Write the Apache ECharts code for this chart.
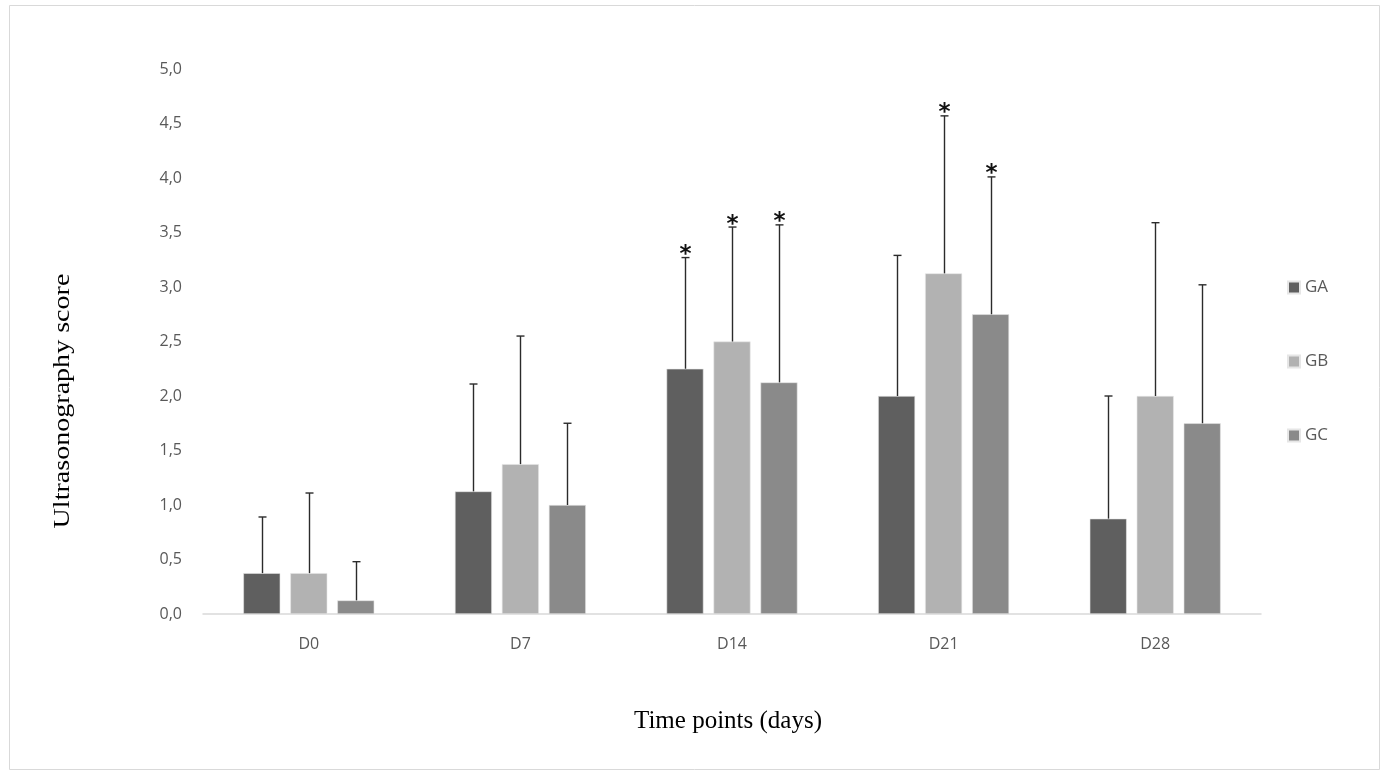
<!DOCTYPE html>
<html>
<head>
<meta charset="utf-8">
<script src="https://cdn.jsdelivr.net/npm/echarts@6/dist/echarts.min.js"></script>
<style>
  html, body { margin: 0; padding: 0; background: #fff; }
  #chart { width: 1387px; height: 774px; }
</style>
</head>
<body>
<div id="chart"></div>
<script>
// Time points and group values (mean score, plus upper SD)
const categories = ['D0', 'D7', 'D14', 'D21', 'D28'];
const groups = ['GA', 'GB', 'GC'];
const gaMean = [0.375, 1.125, 2.25, 2.0, 0.875];
const gbMean = [0.375, 1.375, 2.5, 3.125, 2.0];
const gcMean = [0.125, 1.0, 2.125, 2.75, 1.75];
const gaSD = [0.515, 0.985, 1.02, 1.29, 1.125];
const gbSD = [0.735, 1.175, 1.05, 1.445, 1.59];
const gcSD = [0.355, 0.75, 1.445, 1.26, 1.27];
// 1 = significant difference marked with an asterisk
const gaSig = [0, 0, 1, 0, 0];
const gbSig = [0, 0, 1, 1, 0];
const gcSig = [0, 0, 1, 1, 0];
const yTicks = { min: 0, max: 5, interval: 0.5 };
const yTitle = 'Ultrasonography score';
const xTitle = 'Time points (days)';

const colors = ['#5f5f5f', '#b2b2b2', '#8a8a8a'];
const means = [gaMean, gbMean, gcMean];
const sds = [gaSD, gbSD, gcSD];
const sigs = [gaSig, gbSig, gcSig];

const BAR_W = 37;
const BAR_GAP = 10;

const chart = echarts.init(document.getElementById('chart'));

const barSeries = groups.map((g, i) => ({
  name: g,
  type: 'bar',
  barWidth: BAR_W,
  barGap: (BAR_GAP / BAR_W * 100).toFixed(0) + '%',
  itemStyle: { color: colors[i], borderColor: '#e6e6e6', borderWidth: 0.6 },
  data: means[i],
  z: 2
}));

const errorSeries = groups.map((g, i) => ({
  type: 'custom',
  name: g + '_err',
  silent: true,
  z: 3,
  data: categories.map((c, k) => [k, means[i][k], means[i][k] + sds[i][k], sigs[i][k]]),
  renderItem: function (params, api) {
    const offset = (i - 1) * (BAR_W + BAR_GAP);
    const base = api.coord([api.value(0), api.value(1)]);
    const top = api.coord([api.value(0), api.value(2)]);
    const x = Math.round(base[0] + offset) + 0.5;
    const style = { stroke: '#2b2b2b', lineWidth: 1.4 };
    const children = [
      { type: 'line', shape: { x1: x, y1: base[1], x2: x, y2: top[1] }, style: style },
      { type: 'line', shape: { x1: x - 4, y1: top[1], x2: x + 4, y2: top[1] }, style: style }
    ];
    if (api.value(3)) {
      children.push({
        type: 'text',
        style: {
          text: '*', x: x, y: top[1] + 9,
          align: 'center', verticalAlign: 'bottom',
          font: 'bold 23px "DejaVu Sans", sans-serif', fill: '#111'
        }
      });
    }
    return { type: 'group', children: children };
  }
}));

chart.setOption({
  animation: false,
  backgroundColor: '#fff',
  graphic: [
    {
      type: 'rect', z: -1, silent: true,
      shape: { x: 9.5, y: 5.5, width: 1370, height: 764 },
      style: { fill: 'none', stroke: '#d9d9d9', lineWidth: 1 }
    },
    {
      type: 'text', silent: true,
      x: 63, y: 401, rotation: Math.PI / 2, scaleX: 1.22,
      style: {
        text: yTitle, align: 'center', verticalAlign: 'middle',
        font: '23px "Liberation Serif", "DejaVu Serif", serif', fill: '#000'
      }
    },
    {
      type: 'text', silent: true,
      x: 728, y: 721,
      style: {
        text: xTitle, align: 'center', verticalAlign: 'middle',
        font: '25px "Liberation Serif", "DejaVu Serif", serif', fill: '#000'
      }
    }
  ],
  grid: { left: 203, right: 126, top: 69, bottom: 160, containLabel: false },
  legend: {
    orient: 'vertical',
    left: 1287,
    top: 279,
    padding: 0,
    itemWidth: 12,
    itemHeight: 12,
    itemGap: 57,
    icon: 'rect',
    data: groups,
    textStyle: { color: '#595959', fontSize: 17, fontFamily: '"Open Sans", "Noto Sans", sans-serif' }
  },
  xAxis: {
    type: 'category',
    data: categories,
    axisLine: { lineStyle: { color: '#d9d9d9', width: 1.5 } },
    axisTick: { show: false },
    axisLabel: { margin: 22, fontSize: 16, color: '#595959', fontFamily: '"Open Sans", "Noto Sans", sans-serif' }
  },
  yAxis: {
    type: 'value',
    min: yTicks.min,
    max: yTicks.max,
    interval: yTicks.interval,
    axisLine: { show: false },
    axisTick: { show: false },
    splitLine: { show: false },
    axisLabel: {
      margin: 21,
      fontSize: 16,
      color: '#595959',
      fontFamily: '"Open Sans", "Noto Sans", sans-serif',
      formatter: v => v.toFixed(1).replace('.', ',')
    }
  },
  series: barSeries.concat(errorSeries)
});
</script>
</body>
</html>
